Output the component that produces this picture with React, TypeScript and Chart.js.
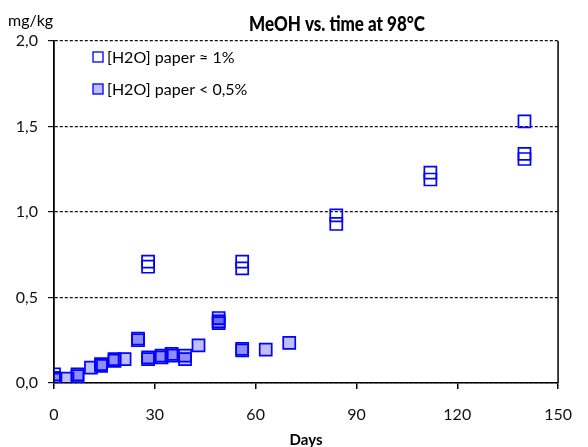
import React, { useEffect, useRef } from "react";
import { Chart, registerables } from "chart.js";

Chart.register(...registerables);

const seriesNames = ["[H2O] paper ≈ 1%", "[H2O] paper < 0,5%"];

// [H2O] paper ≈ 1%
const days1 = [0, 0, 28, 28, 56, 56, 84, 84, 112, 112, 140, 140, 140];
const vals1 = [0.05, 0.03, 0.71, 0.68, 0.71, 0.67, 0.98, 0.93, 1.23, 1.19, 1.53, 1.34, 1.31];

// [H2O] paper < 0,5%
const days2 = [0, 0, 4, 7, 7, 11, 14, 14, 18, 18, 21, 25, 25, 28, 28, 32, 32, 35, 35, 39, 39, 43, 49, 49, 49, 56, 56, 63, 70];
const vals2 = [0.02, 0.03, 0.025, 0.05, 0.04, 0.09, 0.11, 0.1, 0.14, 0.13, 0.14, 0.26, 0.25, 0.15, 0.14, 0.16, 0.15, 0.17, 0.16, 0.16, 0.14, 0.22, 0.38, 0.36, 0.35, 0.2, 0.19, 0.195, 0.235];

const xTicks = [0, 30, 60, 90, 120, 150];
const yTicks = [0, 0.5, 1.0, 1.5, 2.0];

const titleText = "MeOH vs. time at 98°C";
const yUnit = "mg/kg";
const xTitle = "Days";

const FONT = "Lato, 'Open Sans', sans-serif";
const BLUE = "#0000ff";
const FILL2 = "rgba(0,0,255,0.25)";

const decorPlugin = {
  id: "decor",
  afterDraw(chart: any) {
    const { ctx, chartArea } = chart;
    ctx.save();
    // right border
    ctx.strokeStyle = "#000";
    ctx.lineWidth = 1.5;
    ctx.beginPath();
    ctx.moveTo(chartArea.right, chartArea.top);
    ctx.lineTo(chartArea.right, chartArea.bottom);
    ctx.stroke();

    ctx.fillStyle = "#000";
    // title (slightly condensed to mimic the narrow original face)
    ctx.font = `900 20px ${FONT}`;
    ctx.textAlign = "center";
    ctx.textBaseline = "alphabetic";
    const w = ctx.measureText(titleText).width;
    const sx = Math.min(1, 176 / w);
    ctx.save();
    ctx.translate(337, 31);
    ctx.scale(sx, 1);
    ctx.fillText(titleText, 0, 0);
    ctx.restore();
    // unit
    ctx.font = `16px ${FONT}`;
    ctx.textAlign = "left";
    ctx.fillText(yUnit, 8, 26);
    // x title
    ctx.font = `bold 15px ${FONT}`;
    ctx.textAlign = "center";
    ctx.fillText(xTitle, (chartArea.left + chartArea.right) / 2, 445);

    // legend
    const items = [
      { y: 57, fill: "#ffffff" },
      { y: 89, fill: FILL2 },
    ];
    ctx.font = `16px ${FONT}`;
    ctx.textAlign = "left";
    ctx.textBaseline = "middle";
    items.forEach((it, i) => {
      ctx.fillStyle = it.fill;
      ctx.fillRect(93, it.y - 5, 10, 10);
      ctx.strokeStyle = BLUE;
      ctx.lineWidth = 1.3;
      ctx.strokeRect(93, it.y - 5, 10, 10);
      ctx.fillStyle = "#000";
      ctx.fillText(chart.data.datasets[i].label, 107, it.y + 1);
    });
    ctx.restore();
  },
};

export default function App() {
  const ref = useRef<HTMLCanvasElement>(null);
  useEffect(() => {
    if (!ref.current) return;
    const chart = new Chart(ref.current, {
      type: "scatter",
      data: {
        datasets: [
          {
            label: seriesNames[0],
            data: days1.map((d, i) => ({ x: d, y: vals1[i] })),
            pointStyle: "rect",
            pointRadius: 8.5,
            pointHoverRadius: 8.5,
            backgroundColor: "rgba(255,255,255,0)",
            borderColor: BLUE,
            pointBorderWidth: 1.7,
          },
          {
            label: seriesNames[1],
            data: days2.map((d, i) => ({ x: d, y: vals2[i] })),
            pointStyle: "rect",
            pointRadius: 8.5,
            pointHoverRadius: 8.5,
            backgroundColor: FILL2,
            borderColor: BLUE,
            pointBorderWidth: 1.7,
          },
        ],
      },
      options: {
        animation: false,
        responsive: false,
        devicePixelRatio: 1,
        layout: { padding: { left: 0, top: 41, right: 17, bottom: 0 } },
        plugins: {
          legend: { display: false },
          title: { display: false },
          tooltip: { enabled: false },
        },
        scales: {
          x: {
            type: "linear",
            min: 0,
            max: 150,
            afterBuildTicks: (s: any) => {
              s.ticks = xTicks.map((v) => ({ value: v }));
            },
            afterFit: (s: any) => {
              s.height = 64;
            },
            ticks: {
              font: { family: FONT, size: 16 },
              color: "#111",
              padding: 16,
              maxRotation: 0,
              autoSkip: false,
            },
            grid: {
              drawOnChartArea: false,
              drawTicks: true,
              tickLength: 6,
              color: "#000",
              lineWidth: 1.5,
            },
            border: { display: true, color: "#000", width: 1.5 },
          },
          y: {
            type: "linear",
            min: 0,
            max: 2,
            afterBuildTicks: (s: any) => {
              s.ticks = yTicks.map((v) => ({ value: v }));
            },
            afterFit: (s: any) => {
              s.width = 54;
            },
            ticks: {
              font: { family: FONT, size: 16 },
              color: "#111",
              padding: 10,
              callback: (v: any) => Number(v).toFixed(1).replace(".", ","),
            },
            grid: {
              drawOnChartArea: true,
              drawTicks: true,
              tickLength: 6,
              color: "#111",
              lineWidth: 1.2,
              tickBorderDash: [],
            } as any,
            border: { display: true, color: "#000", width: 1.8, dash: [3, 2] },
          },
        },
      },
      plugins: [decorPlugin],
    } as any);
    return () => chart.destroy();
  }, []);
  return (
    <div style={{ position: "fixed", left: 0, top: 0, width: 588, height: 447, background: "#fff" }}>
      <canvas ref={ref} width={588} height={447} style={{ display: "block", width: 588, height: 447 }} />
    </div>
  );
}
